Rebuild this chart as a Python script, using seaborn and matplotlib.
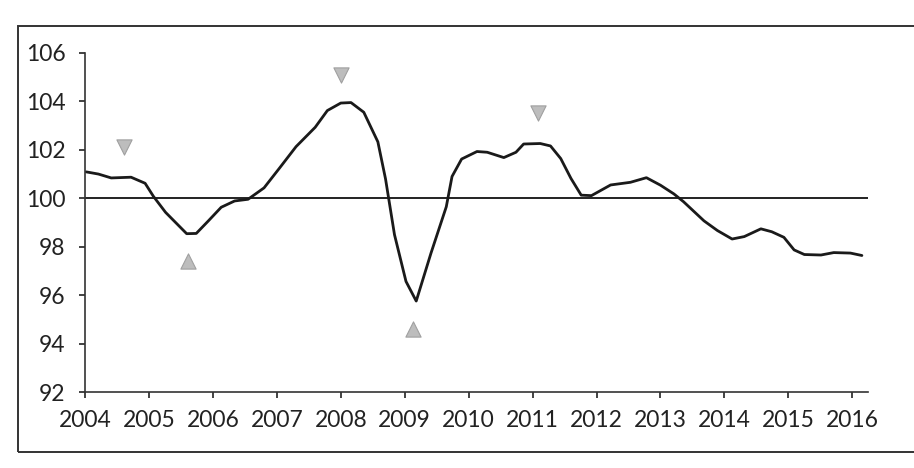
import matplotlib
matplotlib.use("Agg")
import matplotlib.pyplot as plt
import seaborn as sns
import pandas as pd

# index series (year, value)
years = [2004.02, 2004.21, 2004.41, 2004.72, 2004.94, 2005.07, 2005.26, 2005.59, 2005.74,
         2005.93, 2006.13, 2006.34, 2006.55, 2006.80, 2007.04, 2007.30, 2007.60, 2007.79,
         2008.00, 2008.16, 2008.36, 2008.58, 2008.70, 2008.84, 2009.02, 2009.18, 2009.41,
         2009.65, 2009.74, 2009.89, 2010.13, 2010.29, 2010.55, 2010.74, 2010.86, 2011.12,
         2011.28, 2011.44, 2011.60, 2011.76, 2011.92, 2012.22, 2012.53, 2012.78, 2013.00,
         2013.21, 2013.36, 2013.68, 2013.89, 2014.12, 2014.31, 2014.57, 2014.74, 2014.93,
         2015.09, 2015.25, 2015.51, 2015.71, 2015.97, 2016.15]
values = [101.09, 101.00, 100.84, 100.87, 100.62, 100.08, 99.42, 98.54, 98.55,
          99.07, 99.63, 99.89, 99.96, 100.43, 101.24, 102.13, 102.93, 103.62,
          103.93, 103.95, 103.55, 102.33, 100.80, 98.50, 96.57, 95.76, 97.73,
          99.65, 100.90, 101.62, 101.93, 101.90, 101.68, 101.90, 102.24, 102.26,
          102.16, 101.64, 100.82, 100.13, 100.11, 100.55, 100.66, 100.85, 100.54,
          100.18, 99.86, 99.07, 98.67, 98.32, 98.42, 98.74, 98.62, 98.39,
          97.87, 97.68, 97.66, 97.76, 97.74, 97.64]

# turning point markers
peak_x = [2004.61, 2008.00, 2011.08]
peak_y = [102.1, 105.1, 103.5]
trough_x = [2005.61, 2009.13]
trough_y = [97.4, 94.6]

ref_level = 100
year_ticks = list(range(2004, 2017))
y_ticks = list(range(92, 107, 2))

sns.set_style("ticks")
plt.rcParams['font.family'] = ['Lato', 'DejaVu Sans']

fig = plt.figure(figsize=(9.14, 4.68), dpi=100)
ax = fig.add_axes([0.093, 0.162, 0.857, 0.725])

df = pd.DataFrame({"year": years, "value": values})
sns.lineplot(data=df, x="year", y="value", color="#1a1a1a", lw=2.0, ax=ax)
ax.axhline(ref_level, color="#222222", lw=1.4, zorder=1)

sns.scatterplot(x=peak_x, y=peak_y, marker="v", s=120, color="#bdbdbd",
                edgecolor="#a0a0a0", linewidth=0.8, ax=ax, zorder=3)
sns.scatterplot(x=trough_x, y=trough_y, marker="^", s=120, color="#bdbdbd",
                edgecolor="#a0a0a0", linewidth=0.8, ax=ax, zorder=3)

ax.set_xlim(2004, 2016.25)
ax.set_ylim(92, 106)
ax.set_xticks(year_ticks)
ax.set_yticks(y_ticks)
ax.set_xlabel("")
ax.set_ylabel("")
ax.tick_params(axis="both", labelsize=16.5, colors="#222222", length=4, width=1.2)
ax.tick_params(axis="y", pad=10)
ax.tick_params(axis="x", pad=9)
for side in ["left", "bottom"]:
    ax.spines[side].set_color("#333333")
    ax.spines[side].set_linewidth(1.2)
sns.despine(ax=ax)

# outer frame around the whole chart
frame = plt.Rectangle((0.02, 0.035), 1.2, 0.91, transform=fig.transFigure,
                      fill=False, edgecolor="#333333", lw=1.4)
fig.patches.append(frame)

fig.savefig("out.png", dpi=100)
